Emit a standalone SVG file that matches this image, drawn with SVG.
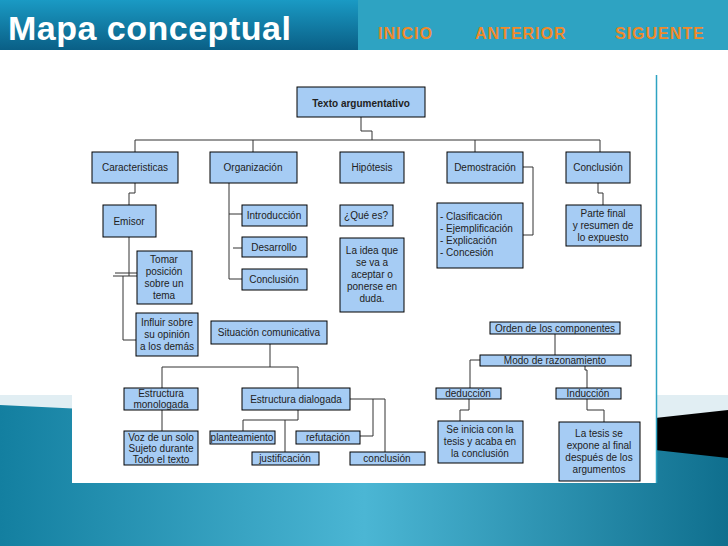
<svg xmlns="http://www.w3.org/2000/svg" width="728" height="546" viewBox="0 0 728 546">
<defs>
<linearGradient id="tb" x1="0" y1="0" x2="0" y2="1"><stop offset="0" stop-color="#1a9ac4"/><stop offset="1" stop-color="#0a5f86"/></linearGradient>
<linearGradient id="bg" x1="0" y1="0" x2="1" y2="0"><stop offset="0" stop-color="#137fa0"/><stop offset="0.5" stop-color="#4bb6d4"/><stop offset="1" stop-color="#0f6f8e"/></linearGradient>
</defs>
<style>
.n rect{fill:#a6ccf4;stroke:#000;stroke-width:1}
.n text{font-family:"Liberation Sans",Arial,sans-serif;font-size:10px;fill:#222;text-anchor:middle}
.n text.l{text-anchor:start}
#conn path{fill:none;stroke:#333;stroke-width:1}
.hd{font-family:"Liberation Sans",Arial,sans-serif;font-weight:bold}
</style>
<rect width="728" height="546" fill="#fff"/>
<polygon points="0,395 728,395 728,546 0,546" fill="#e1eef3"/>
<polygon points="0,405 728,440 728,546 0,546" fill="url(#bg)"/>
<polygon points="655,418 728,410 728,458 655,450" fill="#000"/>
<rect x="0" y="0" width="728" height="50" fill="#2ea3c2"/>
<rect x="0" y="0" width="358" height="50" fill="url(#tb)"/>
<text class="hd" x="8" y="40" font-size="34" fill="#fff" letter-spacing="0.5">Mapa conceptual</text>
<text class="hd" x="378" y="39" font-size="16" fill="#f08a2a" letter-spacing="1">INICIO</text>
<text class="hd" x="475" y="39" font-size="16" fill="#f08a2a" letter-spacing="1">ANTERIOR</text>
<text class="hd" x="615" y="39" font-size="16" fill="#f08a2a" letter-spacing="1">SIGUENTE</text>
<rect x="72" y="75" width="584" height="408" fill="#fff"/>
<line x1="656.5" y1="75" x2="656.5" y2="483" stroke="#2ea3c2" stroke-width="1.5"/>
<g id="conn">
<path d="M361,117V131H372V140"/>
<path d="M135,152V140H600V152"/>
<path d="M253,140V152M475,140V152"/>
<path d="M135,183V193H129V205"/>
<path d="M229,183V279H242M229,214H242M233,248H242"/>
<path d="M523,167H533V235H523"/>
<path d="M598,183V193H603V205"/>
<path d="M129,237V276M113,276H137M123,276V340H136M115,273H137"/>
<path d="M270,344V367M162,388V367H298V388"/>
<path d="M162,410V431"/>
<path d="M298,410V420H243V431M285,420V452"/>
<path d="M350,399H385V452M373,399V436H360"/>
<path d="M555,334V355"/>
<path d="M480,360H470V388"/>
<path d="M469,399V410H460V421"/>
<path d="M585,366V370H587V388M587,399V410H604V422"/>
</g>
<g id="n1" class="n"><rect x="297" y="87" width="128" height="30"/><text x="361" y="107" font-size="12" font-weight="bold" fill="#000">Texto argumentativo</text></g>
<g id="n2" class="n"><rect x="92" y="152" width="86" height="31"/><text x="135" y="171">Caracteristicas</text></g>
<g id="n3" class="n"><rect x="210" y="152" width="87" height="31"/><text x="253" y="171">Organización</text></g>
<g id="n4" class="n"><rect x="340" y="152" width="64" height="31"/><text x="372" y="171">Hipótesis</text></g>
<g id="n5" class="n"><rect x="447" y="152" width="76" height="31"/><text x="485" y="171">Demostración</text></g>
<g id="n6" class="n"><rect x="566" y="152" width="64" height="31"/><text x="598" y="171">Conclusión</text></g>
<g id="n7" class="n"><rect x="103" y="205" width="53" height="32"/><text x="129" y="225">Emisor</text></g>
<g id="n8" class="n"><rect x="242" y="205" width="65" height="21"/><text x="274" y="219">Introducción</text></g>
<g id="n9" class="n"><rect x="242" y="237" width="65" height="20"/><text x="274" y="251">Desarrollo</text></g>
<g id="n10" class="n"><rect x="242" y="269" width="65" height="21"/><text x="274" y="283">Conclusión</text></g>
<g id="n11" class="n"><rect x="340" y="205" width="53" height="21"/><text x="366" y="219">¿Qué es?</text></g>
<g id="n12" class="n"><rect x="340" y="238" width="64" height="74"/><text x="372" y="254">La idea que</text><text x="372" y="266">se va a</text><text x="372" y="278">aceptar o</text><text x="372" y="290">ponerse en</text><text x="372" y="302">duda.</text></g>
<g id="n13" class="n"><rect x="437" y="203" width="86" height="65"/><text class="l" x="440" y="220">- Clasificación</text><text class="l" x="440" y="232">- Ejemplificación</text><text class="l" x="440" y="244">- Explicación</text><text class="l" x="440" y="256">- Concesión</text></g>
<g id="n14" class="n"><rect x="566" y="205" width="75" height="41"/><text x="603" y="217">Parte final</text><text x="603" y="229">y resumen de</text><text x="603" y="241">lo expuesto</text></g>
<g id="n15" class="n"><rect x="137" y="251" width="55" height="53"/><text x="164" y="263">Tomar</text><text x="164" y="275">posición</text><text x="164" y="287">sobre un</text><text x="164" y="299">tema</text></g>
<g id="n16" class="n"><rect x="136" y="313" width="62" height="43"/><text x="167" y="326">Influir sobre</text><text x="167" y="338">su opinión</text><text x="167" y="350">a los demás</text></g>
<g id="n17" class="n"><rect x="211" y="321" width="116" height="23"/><text x="269" y="336">Situación comunicativa</text></g>
<g id="n18" class="n"><rect x="124" y="388" width="74" height="22"/><text x="161" y="397">Estructura</text><text x="161" y="408">monologada</text></g>
<g id="n19" class="n"><rect x="242" y="388" width="108" height="22"/><text x="296" y="403">Estructura dialogada</text></g>
<g id="n20" class="n"><rect x="124" y="431" width="74" height="34"/><text x="161" y="441">Voz de un solo</text><text x="161" y="452">Sujeto durante</text><text x="161" y="463">Todo el texto</text></g>
<g id="n21" class="n"><rect x="210" y="431" width="65" height="13"/><text x="242" y="441">planteamiento</text></g>
<g id="n22" class="n"><rect x="252" y="452" width="67" height="13"/><text x="285" y="462">justificación</text></g>
<g id="n23" class="n"><rect x="296" y="431" width="64" height="13"/><text x="328" y="441">refutación</text></g>
<g id="n24" class="n"><rect x="350" y="452" width="75" height="13"/><text x="387" y="462">conclusión</text></g>
<g id="n25" class="n"><rect x="490" y="322" width="130" height="12"/><text x="555" y="332">Orden de los componentes</text></g>
<g id="n26" class="n"><rect x="480" y="355" width="151" height="11"/><text x="555" y="364">Modo de razonamiento</text></g>
<g id="n27" class="n"><rect x="436" y="388" width="65" height="11"/><text x="468" y="397">deducción</text></g>
<g id="n28" class="n"><rect x="556" y="388" width="65" height="11"/><text x="588" y="397">Inducción</text></g>
<g id="n29" class="n"><rect x="438" y="421" width="85" height="42"/><text x="480" y="433">Se inicia con la</text><text x="480" y="445">tesis y acaba en</text><text x="480" y="457">la conclusión</text></g>
<g id="n30" class="n"><rect x="559" y="422" width="81" height="59"/><text x="599" y="437">La tesis se</text><text x="599" y="449">expone al final</text><text x="599" y="461">después de los</text><text x="599" y="473">argumentos</text></g>
</svg>
